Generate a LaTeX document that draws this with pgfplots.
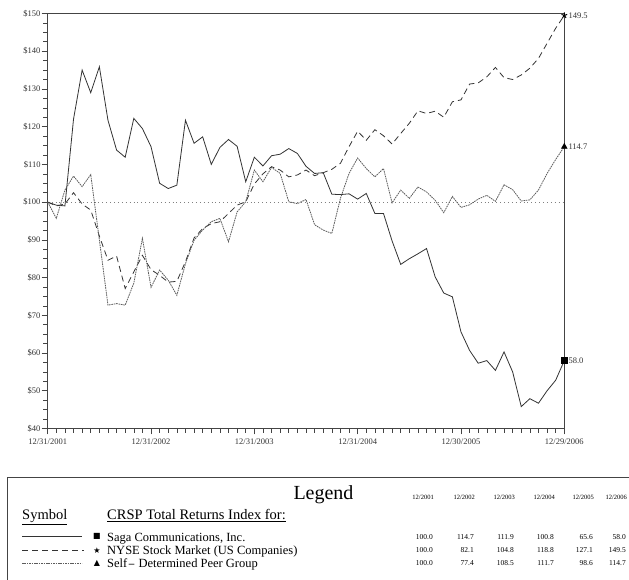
\documentclass[border=0pt]{standalone}
\usepackage{fontspec}
\setmainfont{Liberation Serif}
\newfontfamily\sym{DejaVu Sans}
\usepackage{pgfplots}
\usepackage{pgfplotstable}
\pgfplotsset{compat=1.18}
\definecolor{ln}{HTML}{333333}
\definecolor{ax}{HTML}{444444}

\pgfplotstableread{
m v
0 100
1 99.2
2 99.0
3 122.0
4 135.0
5 129.0
6 135.9
7 121.7
8 113.8
9 111.9
10 122.2
11 119.5
12 114.7
13 105.0
14 103.6
15 104.5
16 121.7
17 115.6
18 117.3
19 110.0
20 114.5
21 116.6
22 114.8
23 105.4
24 111.9
25 109.6
26 112.3
27 112.7
28 114.2
29 112.9
30 109.5
31 107.6
32 107.8
33 102.1
34 102.0
35 102.2
36 100.8
37 102.3
38 97.0
39 97.0
40 89.7
41 83.5
42 85.0
43 86.3
44 87.7
45 80.2
46 75.9
47 74.9
48 65.6
49 60.7
50 57.3
51 58.0
52 55.4
53 60.3
54 55.0
55 45.8
56 47.9
57 46.7
58 50.0
59 52.8
60 58.0
}\saga

\pgfplotstableread{
m v
0 100
1 99.0
2 99.5
3 102.5
4 99.5
5 97.9
6 91.0
7 84.6
8 85.7
9 77.1
10 81.5
11 85.9
12 82.1
13 80.6
14 78.8
15 79.0
16 84.2
17 90.5
18 93.0
19 94.3
20 94.8
21 97.0
22 99.2
23 100.1
24 104.8
25 107.5
26 109.4
27 108.5
28 106.7
29 107.2
30 108.5
31 107.0
32 107.8
33 108.7
34 110.3
35 114.7
36 118.8
37 116.4
38 119.2
39 117.6
40 115.4
41 118.2
42 120.9
43 124.2
44 123.5
45 124.1
46 122.5
47 126.6
48 127.1
49 131.3
50 131.6
51 133.2
52 135.7
53 133.0
54 132.5
55 133.7
56 135.5
57 138.1
58 142.1
59 146.1
60 149.5
}\nyse

\pgfplotstableread{
m v
0 100
1 95.7
2 103.2
3 106.9
4 104.1
5 107.3
6 90.0
7 72.7
8 73.1
9 72.7
10 78.5
11 90.4
12 77.4
13 82.0
14 79.3
15 75.3
16 83.7
17 89.9
18 92.6
19 94.8
20 95.7
21 89.5
22 97.4
23 100.1
24 108.5
25 105.4
26 109.2
27 107.6
28 100.1
29 99.6
30 100.7
31 94.0
32 92.6
33 91.7
34 101.0
35 107.6
36 111.7
37 108.9
38 106.7
39 108.9
40 99.8
41 103.2
42 101.0
43 104.0
44 102.7
45 100.5
46 97.2
47 101.5
48 98.6
49 99.3
50 100.8
51 101.8
52 100.2
53 104.6
54 103.3
55 100.3
56 100.6
57 103.2
58 107.6
59 111.3
60 114.7
}\peer

\begin{document}
\begin{tikzpicture}[x=1pt,y=1pt]
\useasboundingbox (0,0) rectangle (629,580);
\clip (0,0) rectangle (629,580);
\begin{axis}[
  at={(47.7pt,151.5pt)}, anchor=south west,
  width=516.6pt, height=415pt, scale only axis,
  xmin=0, xmax=60, ymin=40, ymax=150,
  axis line style={ax, line width=0.7pt},
  tick style={ax, line width=0.6pt},
  tick align=outside, tick pos=left,
  major tick length=6pt, minor tick length=4.5pt,
  xtick={0,12,24,36,48,60},
  xticklabels={12/31/2001,12/31/2002,12/31/2003,12/31/2004,12/30/2005,12/29/2006},
  minor x tick num=11,
  ytick={40,50,...,150},
  yticklabel={\$\pgfmathprintnumber{\tick}},
  minor y tick num=3,
  /pgf/number format/assume math mode=true,
  ticklabel style={font=\fontsize{8.5}{9}\selectfont, text=ln},
  yticklabel style={inner sep=1pt},
  xticklabel style={inner sep=1pt, yshift=-3pt},
  clip=false,
]
\addplot[gray, line width=0.8pt, dash pattern=on 0.9pt off 3pt] coordinates {(0,100) (60,100)};
\addplot[ln, line width=0.8pt] table[x=m,y=v] {\saga};
\addplot[ln, line width=0.8pt, dash pattern=on 6pt off 4pt] table[x=m,y=v] {\nyse};
\addplot[ln!80, line width=0.8pt, dash pattern=on 1.6pt off 0.8pt] table[x=m,y=v] {\peer};
\addplot[only marks, mark=square*, mark size=3pt, black] coordinates {(60,58.0)};
\addplot[only marks, mark=star, mark size=3pt, black, mark options={line width=1pt}] coordinates {(60,149.5)};
\addplot[only marks, mark=triangle*, mark size=3.3pt, black] coordinates {(60,114.7)};
\node[anchor=west, font=\fontsize{8.5}{9}\selectfont, text=ln, inner sep=1pt] at (axis cs:60,58.0) [xshift=3pt] {58.0};
\node[anchor=west, font=\fontsize{8.5}{9}\selectfont, text=ln, inner sep=1pt] at (axis cs:60,149.5) [xshift=3pt] {149.5};
\node[anchor=west, font=\fontsize{8.5}{9}\selectfont, text=ln, inner sep=1pt] at (axis cs:60,114.7) [xshift=3pt] {114.7};
\end{axis}

% Legend box
\draw[ax, line width=0.8pt] (7,-20) -- (7,103) -- (700,103);
\node[anchor=base, font=\fontsize{20}{22}\selectfont, inner sep=0] at (323.5,80) {Legend};
\node[anchor=base west, font=\fontsize{14.5}{16}\selectfont, inner sep=0] at (22,60) {\underline{Symbol}};
\node[anchor=base west, font=\fontsize{14.5}{16}\selectfont, inner sep=0] at (107,60) {\underline{CRSP Total Returns Index for:}};
\draw[ln, line width=0.8pt] (22,44) -- (82,44);
\draw[ln, line width=0.8pt, dash pattern=on 6pt off 4pt] (22,29.5) -- (84,29.5);
\draw[ln!80, line width=0.8pt, dash pattern=on 1.6pt off 0.8pt] (22,17) -- (82,17);
\node[font=\sym\fontsize{8}{9}\selectfont, inner sep=0] at (97,44) {■};
\node[font=\sym\fontsize{8}{9}\selectfont, inner sep=0] at (97,29.5) {★};
\node[font=\sym\fontsize{8}{9}\selectfont, inner sep=0] at (97,17) {▲};
\node[anchor=base west, font=\fontsize{12.5}{14}\selectfont, inner sep=0] at (107,38.5) {Saga Communications, Inc.};
\node[anchor=base west, font=\fontsize{12.5}{14}\selectfont, inner sep=0] at (107,25) {NYSE Stock Market (US Companies)};
\node[anchor=base west, font=\fontsize{12.5}{14}\selectfont, inner sep=0] at (107,12) {Self{\hspace{0.5pt}}{\sym\fontsize{9}{10}\selectfont −} Determined Peer Group};
% table
\foreach \xx/\h/\a/\b/\c in {433/12\slash2001/100.0/100.0/100.0, 474/12\slash2002/114.7/82.1/77.4, 514/12\slash2003/111.9/104.8/108.5, 554/12\slash2004/100.8/118.8/111.7, 593/12\slash2005/65.6/127.1/98.6, 626/12\slash2006/58.0/149.5/114.7} {
  \node[anchor=base east, font=\fontsize{6.5}{7}\selectfont, inner sep=0] at (\xx+1,80) {\h};
  \node[anchor=base east, font=\fontsize{7.5}{8}\selectfont, inner sep=0] at (\xx,40) {\a};
  \node[anchor=base east, font=\fontsize{7.5}{8}\selectfont, inner sep=0] at (\xx,27) {\b};
  \node[anchor=base east, font=\fontsize{7.5}{8}\selectfont, inner sep=0] at (\xx,14) {\c};
}
\end{tikzpicture}
\end{document}
